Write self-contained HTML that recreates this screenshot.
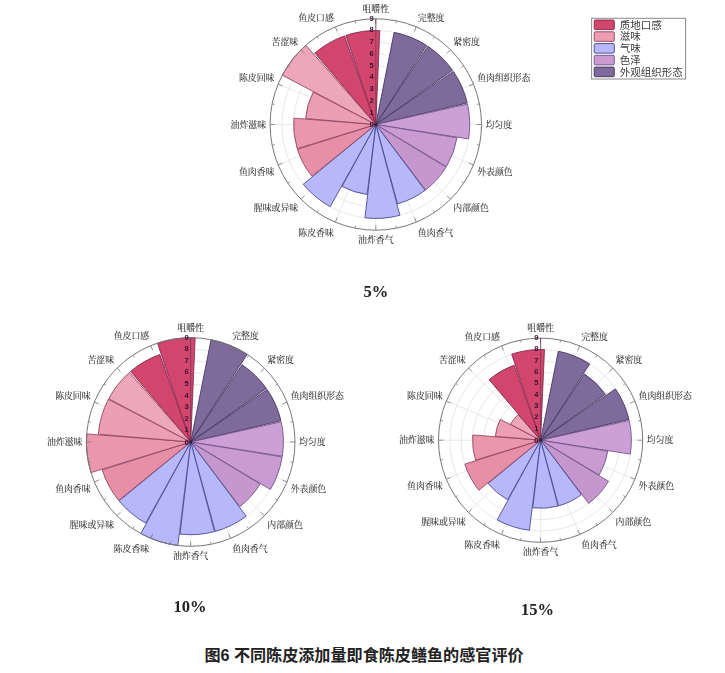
<!DOCTYPE html>
<html lang="zh"><head><meta charset="utf-8"><title>图6</title>
<style>
html,body{margin:0;padding:0;background:#fff;}
body{width:725px;height:673px;overflow:hidden;position:relative;}
svg{position:absolute;left:0;top:0;display:block;}
.fig{filter:blur(0.45px);}
.lab{font-family:"Liberation Serif","Noto Serif CJK SC",serif;font-size:8.9px;fill:#2c2c2c;stroke:#2c2c2c;stroke-width:0.08px;}
.num{font-family:"Liberation Sans","Noto Sans CJK SC",sans-serif;font-size:7.6px;fill:#3a1030;font-weight:bold;}
.leg{font-family:"Liberation Sans","Noto Sans CJK SC",sans-serif;font-size:10.5px;fill:#3a3a3a;}
.pct{font-family:"Liberation Serif",serif;font-size:16.5px;font-weight:bold;fill:#222;}
.cap{font-family:"Liberation Sans","Noto Sans CJK SC",sans-serif;font-size:16.1px;font-weight:bold;fill:#222;}
</style></head><body>
<svg width="725" height="673" viewBox="0 0 725 673">
<rect width="725" height="673" fill="#fff"/>
<g class="fig">
<circle cx="375.8" cy="124.5" r="11.74" fill="none" stroke="#e2e2e2" stroke-width="0.8"/>
<circle cx="375.8" cy="124.5" r="23.49" fill="none" stroke="#e2e2e2" stroke-width="0.8"/>
<circle cx="375.8" cy="124.5" r="35.23" fill="none" stroke="#e2e2e2" stroke-width="0.8"/>
<circle cx="375.8" cy="124.5" r="46.98" fill="none" stroke="#e2e2e2" stroke-width="0.8"/>
<circle cx="375.8" cy="124.5" r="58.72" fill="none" stroke="#e2e2e2" stroke-width="0.8"/>
<circle cx="375.8" cy="124.5" r="70.47" fill="none" stroke="#e2e2e2" stroke-width="0.8"/>
<circle cx="375.8" cy="124.5" r="82.21" fill="none" stroke="#e2e2e2" stroke-width="0.8"/>
<circle cx="375.8" cy="124.5" r="93.96" fill="none" stroke="#e2e2e2" stroke-width="0.8"/>
<line x1="375.8" y1="124.5" x2="375.80" y2="18.80" stroke="#e2e2e2" stroke-width="0.8"/>
<line x1="375.8" y1="124.5" x2="416.25" y2="26.85" stroke="#e2e2e2" stroke-width="0.8"/>
<line x1="375.8" y1="124.5" x2="450.54" y2="49.76" stroke="#e2e2e2" stroke-width="0.8"/>
<line x1="375.8" y1="124.5" x2="473.45" y2="84.05" stroke="#e2e2e2" stroke-width="0.8"/>
<line x1="375.8" y1="124.5" x2="481.50" y2="124.50" stroke="#e2e2e2" stroke-width="0.8"/>
<line x1="375.8" y1="124.5" x2="473.45" y2="164.95" stroke="#e2e2e2" stroke-width="0.8"/>
<line x1="375.8" y1="124.5" x2="450.54" y2="199.24" stroke="#e2e2e2" stroke-width="0.8"/>
<line x1="375.8" y1="124.5" x2="416.25" y2="222.15" stroke="#e2e2e2" stroke-width="0.8"/>
<line x1="375.8" y1="124.5" x2="375.80" y2="230.20" stroke="#e2e2e2" stroke-width="0.8"/>
<line x1="375.8" y1="124.5" x2="335.35" y2="222.15" stroke="#e2e2e2" stroke-width="0.8"/>
<line x1="375.8" y1="124.5" x2="301.06" y2="199.24" stroke="#e2e2e2" stroke-width="0.8"/>
<line x1="375.8" y1="124.5" x2="278.15" y2="164.95" stroke="#e2e2e2" stroke-width="0.8"/>
<line x1="375.8" y1="124.5" x2="270.10" y2="124.50" stroke="#e2e2e2" stroke-width="0.8"/>
<line x1="375.8" y1="124.5" x2="278.15" y2="84.05" stroke="#e2e2e2" stroke-width="0.8"/>
<line x1="375.8" y1="124.5" x2="301.06" y2="49.76" stroke="#e2e2e2" stroke-width="0.8"/>
<line x1="375.8" y1="124.5" x2="335.35" y2="26.85" stroke="#e2e2e2" stroke-width="0.8"/>
<path d="M375.80,124.50L394.13,32.35A93.96,93.96 0 0 1 426.66,45.50Z" fill="#7e6a9b" stroke="#3a2c58" stroke-width="0.8" stroke-linejoin="round"/>
<path d="M375.80,124.50L427.83,46.27A93.96,93.96 0 0 1 452.50,70.24Z" fill="#7e6a9b" stroke="#3a2c58" stroke-width="0.8" stroke-linejoin="round"/>
<path d="M375.80,124.50L453.30,71.38A93.96,93.96 0 0 1 467.25,102.97Z" fill="#7e6a9b" stroke="#3a2c58" stroke-width="0.8" stroke-linejoin="round"/>
<path d="M375.80,124.50L467.51,104.08A93.96,93.96 0 0 1 468.64,138.91Z" fill="#cca0d6" stroke="#684a80" stroke-width="0.8" stroke-linejoin="round"/>
<path d="M375.80,124.50L456.94,137.75A82.21,82.21 0 0 1 446.43,166.56Z" fill="#c99bd2" stroke="#684a80" stroke-width="0.8" stroke-linejoin="round"/>
<path d="M375.80,124.50L446.10,167.12A82.21,82.21 0 0 1 425.59,189.92Z" fill="#c697ce" stroke="#684a80" stroke-width="0.8" stroke-linejoin="round"/>
<path d="M375.80,124.50L425.08,190.31A82.21,82.21 0 0 1 397.53,203.79Z" fill="#b7b7fb" stroke="#3c3c85" stroke-width="0.8" stroke-linejoin="round"/>
<path d="M375.80,124.50L399.92,215.31A93.96,93.96 0 0 1 364.96,217.83Z" fill="#b7b7fb" stroke="#3c3c85" stroke-width="0.8" stroke-linejoin="round"/>
<path d="M375.80,124.50L367.12,194.43A70.47,70.47 0 0 1 342.10,186.38Z" fill="#b7b7fb" stroke="#3c3c85" stroke-width="0.8" stroke-linejoin="round"/>
<path d="M375.80,124.50L330.21,206.66A93.96,93.96 0 0 1 303.28,184.23Z" fill="#b7b7fb" stroke="#3c3c85" stroke-width="0.8" stroke-linejoin="round"/>
<path d="M375.80,124.50L311.93,176.27A82.21,82.21 0 0 1 297.40,149.26Z" fill="#e88fa8" stroke="#8a3a58" stroke-width="0.8" stroke-linejoin="round"/>
<path d="M375.80,124.50L297.21,148.64A82.21,82.21 0 0 1 293.83,118.16Z" fill="#ea96ad" stroke="#8a3a58" stroke-width="0.8" stroke-linejoin="round"/>
<path d="M375.80,124.50L305.59,118.51A70.47,70.47 0 0 1 313.22,92.10Z" fill="#ec9eb4" stroke="#8a3a58" stroke-width="0.8" stroke-linejoin="round"/>
<path d="M375.80,124.50L282.32,75.16A105.70,105.70 0 0 1 305.83,45.27Z" fill="#eea6bb" stroke="#8a3a58" stroke-width="0.8" stroke-linejoin="round"/>
<path d="M375.80,124.50L314.84,53.00A93.96,93.96 0 0 1 344.55,35.89Z" fill="#d2456d" stroke="#7a2045" stroke-width="0.8" stroke-linejoin="round"/>
<path d="M375.80,124.50L345.87,35.44A93.96,93.96 0 0 1 379.82,30.63Z" fill="#d2456d" stroke="#7a2045" stroke-width="0.8" stroke-linejoin="round"/>
<circle cx="375.8" cy="124.5" r="105.70" fill="none" stroke="#777" stroke-width="1"/>
<line x1="375.80" y1="18.80" x2="375.80" y2="23.60" stroke="#777" stroke-width="0.8"/>
<line x1="396.42" y1="20.83" x2="395.91" y2="23.38" stroke="#777" stroke-width="0.8"/>
<line x1="416.25" y1="26.85" x2="414.41" y2="31.28" stroke="#777" stroke-width="0.8"/>
<line x1="434.52" y1="36.61" x2="433.08" y2="38.78" stroke="#777" stroke-width="0.8"/>
<line x1="450.54" y1="49.76" x2="447.15" y2="53.15" stroke="#777" stroke-width="0.8"/>
<line x1="463.69" y1="65.78" x2="461.52" y2="67.22" stroke="#777" stroke-width="0.8"/>
<line x1="473.45" y1="84.05" x2="469.02" y2="85.89" stroke="#777" stroke-width="0.8"/>
<line x1="479.47" y1="103.88" x2="476.92" y2="104.39" stroke="#777" stroke-width="0.8"/>
<line x1="481.50" y1="124.50" x2="476.70" y2="124.50" stroke="#777" stroke-width="0.8"/>
<line x1="479.47" y1="145.12" x2="476.92" y2="144.61" stroke="#777" stroke-width="0.8"/>
<line x1="473.45" y1="164.95" x2="469.02" y2="163.11" stroke="#777" stroke-width="0.8"/>
<line x1="463.69" y1="183.22" x2="461.52" y2="181.78" stroke="#777" stroke-width="0.8"/>
<line x1="450.54" y1="199.24" x2="447.15" y2="195.85" stroke="#777" stroke-width="0.8"/>
<line x1="434.52" y1="212.39" x2="433.08" y2="210.22" stroke="#777" stroke-width="0.8"/>
<line x1="416.25" y1="222.15" x2="414.41" y2="217.72" stroke="#777" stroke-width="0.8"/>
<line x1="396.42" y1="228.17" x2="395.91" y2="225.62" stroke="#777" stroke-width="0.8"/>
<line x1="375.80" y1="230.20" x2="375.80" y2="225.40" stroke="#777" stroke-width="0.8"/>
<line x1="355.18" y1="228.17" x2="355.69" y2="225.62" stroke="#777" stroke-width="0.8"/>
<line x1="335.35" y1="222.15" x2="337.19" y2="217.72" stroke="#777" stroke-width="0.8"/>
<line x1="317.08" y1="212.39" x2="318.52" y2="210.22" stroke="#777" stroke-width="0.8"/>
<line x1="301.06" y1="199.24" x2="304.45" y2="195.85" stroke="#777" stroke-width="0.8"/>
<line x1="287.91" y1="183.22" x2="290.08" y2="181.78" stroke="#777" stroke-width="0.8"/>
<line x1="278.15" y1="164.95" x2="282.58" y2="163.11" stroke="#777" stroke-width="0.8"/>
<line x1="272.13" y1="145.12" x2="274.68" y2="144.61" stroke="#777" stroke-width="0.8"/>
<line x1="270.10" y1="124.50" x2="274.90" y2="124.50" stroke="#777" stroke-width="0.8"/>
<line x1="272.13" y1="103.88" x2="274.68" y2="104.39" stroke="#777" stroke-width="0.8"/>
<line x1="278.15" y1="84.05" x2="282.58" y2="85.89" stroke="#777" stroke-width="0.8"/>
<line x1="287.91" y1="65.78" x2="290.08" y2="67.22" stroke="#777" stroke-width="0.8"/>
<line x1="301.06" y1="49.76" x2="304.45" y2="53.15" stroke="#777" stroke-width="0.8"/>
<line x1="317.08" y1="36.61" x2="318.52" y2="38.78" stroke="#777" stroke-width="0.8"/>
<line x1="335.35" y1="26.85" x2="337.19" y2="31.28" stroke="#777" stroke-width="0.8"/>
<line x1="355.18" y1="20.83" x2="355.69" y2="23.38" stroke="#777" stroke-width="0.8"/>
<line x1="375.8" y1="124.5" x2="375.8" y2="18.80" stroke="#6a3a55" stroke-width="0.8"/>
<text x="373.80" y="114.66" text-anchor="end" class="num">1</text>
<text x="373.80" y="102.91" text-anchor="end" class="num">2</text>
<text x="373.80" y="91.17" text-anchor="end" class="num">3</text>
<text x="373.80" y="79.42" text-anchor="end" class="num">4</text>
<text x="373.80" y="67.68" text-anchor="end" class="num">5</text>
<text x="373.80" y="55.93" text-anchor="end" class="num">6</text>
<text x="373.80" y="44.19" text-anchor="end" class="num">7</text>
<text x="373.80" y="32.44" text-anchor="end" class="num">8</text>
<text x="373.80" y="20.70" text-anchor="end" class="num">9</text>
<text x="373.80" y="127.20" text-anchor="end" class="num">0</text><circle cx="375.8" cy="124.5" r="1.6" fill="#2a2030"/>
<text x="375.80" y="12.10" text-anchor="middle" class="lab">咀嚼性</text>
<text x="417.78" y="20.65" text-anchor="start" class="lab">完整度</text>
<text x="453.37" y="45.00" text-anchor="start" class="lab">紧密度</text>
<text x="477.15" y="81.43" text-anchor="start" class="lab">鱼肉组织形态</text>
<text x="485.50" y="127.70" text-anchor="start" class="lab">均匀度</text>
<text x="477.15" y="174.98" text-anchor="start" class="lab">外表颜色</text>
<text x="453.37" y="211.41" text-anchor="start" class="lab">内部颜色</text>
<text x="417.78" y="235.76" text-anchor="start" class="lab">鱼肉香气</text>
<text x="375.80" y="242.80" text-anchor="middle" class="lab">油炸香气</text>
<text x="333.82" y="235.76" text-anchor="end" class="lab">陈皮香味</text>
<text x="298.23" y="211.41" text-anchor="end" class="lab">腥味或异味</text>
<text x="274.45" y="174.98" text-anchor="end" class="lab">鱼肉香味</text>
<text x="266.10" y="127.70" text-anchor="end" class="lab">油炸滋味</text>
<text x="274.45" y="81.43" text-anchor="end" class="lab">陈皮回味</text>
<text x="298.23" y="45.00" text-anchor="end" class="lab">苦涩味</text>
<text x="333.82" y="20.65" text-anchor="end" class="lab">鱼皮口感</text>
<circle cx="190.7" cy="442.0" r="11.59" fill="none" stroke="#e2e2e2" stroke-width="0.8"/>
<circle cx="190.7" cy="442.0" r="23.18" fill="none" stroke="#e2e2e2" stroke-width="0.8"/>
<circle cx="190.7" cy="442.0" r="34.77" fill="none" stroke="#e2e2e2" stroke-width="0.8"/>
<circle cx="190.7" cy="442.0" r="46.36" fill="none" stroke="#e2e2e2" stroke-width="0.8"/>
<circle cx="190.7" cy="442.0" r="57.94" fill="none" stroke="#e2e2e2" stroke-width="0.8"/>
<circle cx="190.7" cy="442.0" r="69.53" fill="none" stroke="#e2e2e2" stroke-width="0.8"/>
<circle cx="190.7" cy="442.0" r="81.12" fill="none" stroke="#e2e2e2" stroke-width="0.8"/>
<circle cx="190.7" cy="442.0" r="92.71" fill="none" stroke="#e2e2e2" stroke-width="0.8"/>
<line x1="190.7" y1="442.0" x2="190.70" y2="337.70" stroke="#e2e2e2" stroke-width="0.8"/>
<line x1="190.7" y1="442.0" x2="230.61" y2="345.64" stroke="#e2e2e2" stroke-width="0.8"/>
<line x1="190.7" y1="442.0" x2="264.45" y2="368.25" stroke="#e2e2e2" stroke-width="0.8"/>
<line x1="190.7" y1="442.0" x2="287.06" y2="402.09" stroke="#e2e2e2" stroke-width="0.8"/>
<line x1="190.7" y1="442.0" x2="295.00" y2="442.00" stroke="#e2e2e2" stroke-width="0.8"/>
<line x1="190.7" y1="442.0" x2="287.06" y2="481.91" stroke="#e2e2e2" stroke-width="0.8"/>
<line x1="190.7" y1="442.0" x2="264.45" y2="515.75" stroke="#e2e2e2" stroke-width="0.8"/>
<line x1="190.7" y1="442.0" x2="230.61" y2="538.36" stroke="#e2e2e2" stroke-width="0.8"/>
<line x1="190.7" y1="442.0" x2="190.70" y2="546.30" stroke="#e2e2e2" stroke-width="0.8"/>
<line x1="190.7" y1="442.0" x2="150.79" y2="538.36" stroke="#e2e2e2" stroke-width="0.8"/>
<line x1="190.7" y1="442.0" x2="116.95" y2="515.75" stroke="#e2e2e2" stroke-width="0.8"/>
<line x1="190.7" y1="442.0" x2="94.34" y2="481.91" stroke="#e2e2e2" stroke-width="0.8"/>
<line x1="190.7" y1="442.0" x2="86.40" y2="442.00" stroke="#e2e2e2" stroke-width="0.8"/>
<line x1="190.7" y1="442.0" x2="94.34" y2="402.09" stroke="#e2e2e2" stroke-width="0.8"/>
<line x1="190.7" y1="442.0" x2="116.95" y2="368.25" stroke="#e2e2e2" stroke-width="0.8"/>
<line x1="190.7" y1="442.0" x2="150.79" y2="345.64" stroke="#e2e2e2" stroke-width="0.8"/>
<path d="M190.70,442.00L211.05,339.70A104.30,104.30 0 0 1 247.16,354.30Z" fill="#7e6a9b" stroke="#3a2c58" stroke-width="0.8" stroke-linejoin="round"/>
<path d="M190.70,442.00L242.04,364.80A92.71,92.71 0 0 1 266.39,388.46Z" fill="#7e6a9b" stroke="#3a2c58" stroke-width="0.8" stroke-linejoin="round"/>
<path d="M190.70,442.00L267.17,389.59A92.71,92.71 0 0 1 280.94,420.75Z" fill="#7e6a9b" stroke="#3a2c58" stroke-width="0.8" stroke-linejoin="round"/>
<path d="M190.70,442.00L281.20,421.85A92.71,92.71 0 0 1 282.31,456.22Z" fill="#cca0d6" stroke="#684a80" stroke-width="0.8" stroke-linejoin="round"/>
<path d="M190.70,442.00L282.20,456.94A92.71,92.71 0 0 1 270.36,489.44Z" fill="#c99bd2" stroke="#684a80" stroke-width="0.8" stroke-linejoin="round"/>
<path d="M190.70,442.00L260.07,484.05A81.12,81.12 0 0 1 239.83,506.55Z" fill="#c697ce" stroke="#684a80" stroke-width="0.8" stroke-linejoin="round"/>
<path d="M190.70,442.00L246.27,516.21A92.71,92.71 0 0 1 215.20,531.41Z" fill="#b7b7fb" stroke="#3c3c85" stroke-width="0.8" stroke-linejoin="round"/>
<path d="M190.70,442.00L214.50,531.60A92.71,92.71 0 0 1 180.00,534.09Z" fill="#b7b7fb" stroke="#3c3c85" stroke-width="0.8" stroke-linejoin="round"/>
<path d="M190.70,442.00L177.85,545.51A104.30,104.30 0 0 1 140.81,533.60Z" fill="#b7b7fb" stroke="#3c3c85" stroke-width="0.8" stroke-linejoin="round"/>
<path d="M190.70,442.00L145.72,523.07A92.71,92.71 0 0 1 119.14,500.94Z" fill="#b7b7fb" stroke="#3c3c85" stroke-width="0.8" stroke-linejoin="round"/>
<path d="M190.70,442.00L118.68,500.38A92.71,92.71 0 0 1 102.29,469.92Z" fill="#e88fa8" stroke="#8a3a58" stroke-width="0.8" stroke-linejoin="round"/>
<path d="M190.70,442.00L91.00,472.62A104.30,104.30 0 0 1 86.71,433.95Z" fill="#ea96ad" stroke="#8a3a58" stroke-width="0.8" stroke-linejoin="round"/>
<path d="M190.70,442.00L98.32,434.12A92.71,92.71 0 0 1 108.37,399.37Z" fill="#ec9eb4" stroke="#8a3a58" stroke-width="0.8" stroke-linejoin="round"/>
<path d="M190.70,442.00L108.71,398.72A92.71,92.71 0 0 1 129.33,372.51Z" fill="#eea6bb" stroke="#8a3a58" stroke-width="0.8" stroke-linejoin="round"/>
<path d="M190.70,442.00L130.55,371.45A92.71,92.71 0 0 1 159.87,354.57Z" fill="#d2456d" stroke="#7a2045" stroke-width="0.8" stroke-linejoin="round"/>
<path d="M190.70,442.00L157.48,343.13A104.30,104.30 0 0 1 195.16,337.80Z" fill="#d2456d" stroke="#7a2045" stroke-width="0.8" stroke-linejoin="round"/>
<circle cx="190.7" cy="442.0" r="104.30" fill="none" stroke="#777" stroke-width="1"/>
<line x1="190.70" y1="337.70" x2="190.70" y2="342.50" stroke="#777" stroke-width="0.8"/>
<line x1="211.05" y1="339.70" x2="210.54" y2="342.25" stroke="#777" stroke-width="0.8"/>
<line x1="230.61" y1="345.64" x2="228.78" y2="350.07" stroke="#777" stroke-width="0.8"/>
<line x1="248.65" y1="355.28" x2="247.20" y2="357.44" stroke="#777" stroke-width="0.8"/>
<line x1="264.45" y1="368.25" x2="261.06" y2="371.64" stroke="#777" stroke-width="0.8"/>
<line x1="277.42" y1="384.05" x2="275.26" y2="385.50" stroke="#777" stroke-width="0.8"/>
<line x1="287.06" y1="402.09" x2="282.63" y2="403.92" stroke="#777" stroke-width="0.8"/>
<line x1="293.00" y1="421.65" x2="290.45" y2="422.16" stroke="#777" stroke-width="0.8"/>
<line x1="295.00" y1="442.00" x2="290.20" y2="442.00" stroke="#777" stroke-width="0.8"/>
<line x1="293.00" y1="462.35" x2="290.45" y2="461.84" stroke="#777" stroke-width="0.8"/>
<line x1="287.06" y1="481.91" x2="282.63" y2="480.08" stroke="#777" stroke-width="0.8"/>
<line x1="277.42" y1="499.95" x2="275.26" y2="498.50" stroke="#777" stroke-width="0.8"/>
<line x1="264.45" y1="515.75" x2="261.06" y2="512.36" stroke="#777" stroke-width="0.8"/>
<line x1="248.65" y1="528.72" x2="247.20" y2="526.56" stroke="#777" stroke-width="0.8"/>
<line x1="230.61" y1="538.36" x2="228.78" y2="533.93" stroke="#777" stroke-width="0.8"/>
<line x1="211.05" y1="544.30" x2="210.54" y2="541.75" stroke="#777" stroke-width="0.8"/>
<line x1="190.70" y1="546.30" x2="190.70" y2="541.50" stroke="#777" stroke-width="0.8"/>
<line x1="170.35" y1="544.30" x2="170.86" y2="541.75" stroke="#777" stroke-width="0.8"/>
<line x1="150.79" y1="538.36" x2="152.62" y2="533.93" stroke="#777" stroke-width="0.8"/>
<line x1="132.75" y1="528.72" x2="134.20" y2="526.56" stroke="#777" stroke-width="0.8"/>
<line x1="116.95" y1="515.75" x2="120.34" y2="512.36" stroke="#777" stroke-width="0.8"/>
<line x1="103.98" y1="499.95" x2="106.14" y2="498.50" stroke="#777" stroke-width="0.8"/>
<line x1="94.34" y1="481.91" x2="98.77" y2="480.08" stroke="#777" stroke-width="0.8"/>
<line x1="88.40" y1="462.35" x2="90.95" y2="461.84" stroke="#777" stroke-width="0.8"/>
<line x1="86.40" y1="442.00" x2="91.20" y2="442.00" stroke="#777" stroke-width="0.8"/>
<line x1="88.40" y1="421.65" x2="90.95" y2="422.16" stroke="#777" stroke-width="0.8"/>
<line x1="94.34" y1="402.09" x2="98.77" y2="403.92" stroke="#777" stroke-width="0.8"/>
<line x1="103.98" y1="384.05" x2="106.14" y2="385.50" stroke="#777" stroke-width="0.8"/>
<line x1="116.95" y1="368.25" x2="120.34" y2="371.64" stroke="#777" stroke-width="0.8"/>
<line x1="132.75" y1="355.28" x2="134.20" y2="357.44" stroke="#777" stroke-width="0.8"/>
<line x1="150.79" y1="345.64" x2="152.62" y2="350.07" stroke="#777" stroke-width="0.8"/>
<line x1="170.35" y1="339.70" x2="170.86" y2="342.25" stroke="#777" stroke-width="0.8"/>
<line x1="190.7" y1="442.0" x2="190.7" y2="337.70" stroke="#6a3a55" stroke-width="0.8"/>
<text x="188.70" y="432.31" text-anchor="end" class="num">1</text>
<text x="188.70" y="420.72" text-anchor="end" class="num">2</text>
<text x="188.70" y="409.13" text-anchor="end" class="num">3</text>
<text x="188.70" y="397.54" text-anchor="end" class="num">4</text>
<text x="188.70" y="385.96" text-anchor="end" class="num">5</text>
<text x="188.70" y="374.37" text-anchor="end" class="num">6</text>
<text x="188.70" y="362.78" text-anchor="end" class="num">7</text>
<text x="188.70" y="351.19" text-anchor="end" class="num">8</text>
<text x="188.70" y="339.60" text-anchor="end" class="num">9</text>
<text x="188.70" y="444.70" text-anchor="end" class="num">0</text><circle cx="190.7" cy="442.0" r="1.6" fill="#2a2030"/>
<text x="190.70" y="331.00" text-anchor="middle" class="lab">咀嚼性</text>
<text x="232.14" y="339.45" text-anchor="start" class="lab">完整度</text>
<text x="267.28" y="363.49" text-anchor="start" class="lab">紧密度</text>
<text x="290.76" y="399.46" text-anchor="start" class="lab">鱼肉组织形态</text>
<text x="299.00" y="445.20" text-anchor="start" class="lab">均匀度</text>
<text x="290.76" y="491.94" text-anchor="start" class="lab">外表颜色</text>
<text x="267.28" y="527.92" text-anchor="start" class="lab">内部颜色</text>
<text x="232.14" y="551.96" text-anchor="start" class="lab">鱼肉香气</text>
<text x="190.70" y="558.90" text-anchor="middle" class="lab">油炸香气</text>
<text x="149.26" y="551.96" text-anchor="end" class="lab">陈皮香味</text>
<text x="114.12" y="527.92" text-anchor="end" class="lab">腥味或异味</text>
<text x="90.64" y="491.94" text-anchor="end" class="lab">鱼肉香味</text>
<text x="82.40" y="445.20" text-anchor="end" class="lab">油炸滋味</text>
<text x="90.64" y="399.46" text-anchor="end" class="lab">陈皮回味</text>
<text x="114.12" y="363.49" text-anchor="end" class="lab">苦涩味</text>
<text x="149.26" y="339.45" text-anchor="end" class="lab">鱼皮口感</text>
<circle cx="540.6" cy="440.2" r="11.34" fill="none" stroke="#e2e2e2" stroke-width="0.8"/>
<circle cx="540.6" cy="440.2" r="22.69" fill="none" stroke="#e2e2e2" stroke-width="0.8"/>
<circle cx="540.6" cy="440.2" r="34.03" fill="none" stroke="#e2e2e2" stroke-width="0.8"/>
<circle cx="540.6" cy="440.2" r="45.38" fill="none" stroke="#e2e2e2" stroke-width="0.8"/>
<circle cx="540.6" cy="440.2" r="56.72" fill="none" stroke="#e2e2e2" stroke-width="0.8"/>
<circle cx="540.6" cy="440.2" r="68.07" fill="none" stroke="#e2e2e2" stroke-width="0.8"/>
<circle cx="540.6" cy="440.2" r="79.41" fill="none" stroke="#e2e2e2" stroke-width="0.8"/>
<circle cx="540.6" cy="440.2" r="90.76" fill="none" stroke="#e2e2e2" stroke-width="0.8"/>
<line x1="540.6" y1="440.2" x2="540.60" y2="338.10" stroke="#e2e2e2" stroke-width="0.8"/>
<line x1="540.6" y1="440.2" x2="579.67" y2="345.87" stroke="#e2e2e2" stroke-width="0.8"/>
<line x1="540.6" y1="440.2" x2="612.80" y2="368.00" stroke="#e2e2e2" stroke-width="0.8"/>
<line x1="540.6" y1="440.2" x2="634.93" y2="401.13" stroke="#e2e2e2" stroke-width="0.8"/>
<line x1="540.6" y1="440.2" x2="642.70" y2="440.20" stroke="#e2e2e2" stroke-width="0.8"/>
<line x1="540.6" y1="440.2" x2="634.93" y2="479.27" stroke="#e2e2e2" stroke-width="0.8"/>
<line x1="540.6" y1="440.2" x2="612.80" y2="512.40" stroke="#e2e2e2" stroke-width="0.8"/>
<line x1="540.6" y1="440.2" x2="579.67" y2="534.53" stroke="#e2e2e2" stroke-width="0.8"/>
<line x1="540.6" y1="440.2" x2="540.60" y2="542.30" stroke="#e2e2e2" stroke-width="0.8"/>
<line x1="540.6" y1="440.2" x2="501.53" y2="534.53" stroke="#e2e2e2" stroke-width="0.8"/>
<line x1="540.6" y1="440.2" x2="468.40" y2="512.40" stroke="#e2e2e2" stroke-width="0.8"/>
<line x1="540.6" y1="440.2" x2="446.27" y2="479.27" stroke="#e2e2e2" stroke-width="0.8"/>
<line x1="540.6" y1="440.2" x2="438.50" y2="440.20" stroke="#e2e2e2" stroke-width="0.8"/>
<line x1="540.6" y1="440.2" x2="446.27" y2="401.13" stroke="#e2e2e2" stroke-width="0.8"/>
<line x1="540.6" y1="440.2" x2="468.40" y2="368.00" stroke="#e2e2e2" stroke-width="0.8"/>
<line x1="540.6" y1="440.2" x2="501.53" y2="345.87" stroke="#e2e2e2" stroke-width="0.8"/>
<path d="M540.60,440.20L558.31,351.19A90.76,90.76 0 0 1 589.73,363.89Z" fill="#7e6a9b" stroke="#3a2c58" stroke-width="0.8" stroke-linejoin="round"/>
<path d="M540.60,440.20L584.57,374.08A79.41,79.41 0 0 1 605.43,394.34Z" fill="#7e6a9b" stroke="#3a2c58" stroke-width="0.8" stroke-linejoin="round"/>
<path d="M540.60,440.20L615.46,388.89A90.76,90.76 0 0 1 628.94,419.40Z" fill="#7e6a9b" stroke="#3a2c58" stroke-width="0.8" stroke-linejoin="round"/>
<path d="M540.60,440.20L629.19,420.48A90.76,90.76 0 0 1 630.28,454.12Z" fill="#cca0d6" stroke="#684a80" stroke-width="0.8" stroke-linejoin="round"/>
<path d="M540.60,440.20L607.78,451.17A68.07,68.07 0 0 1 599.08,475.03Z" fill="#c99bd2" stroke="#684a80" stroke-width="0.8" stroke-linejoin="round"/>
<path d="M540.60,440.20L608.51,481.37A79.41,79.41 0 0 1 588.69,503.39Z" fill="#c697ce" stroke="#684a80" stroke-width="0.8" stroke-linejoin="round"/>
<path d="M540.60,440.20L581.40,494.69A68.07,68.07 0 0 1 558.59,505.85Z" fill="#b7b7fb" stroke="#3c3c85" stroke-width="0.8" stroke-linejoin="round"/>
<path d="M540.60,440.20L558.07,505.99A68.07,68.07 0 0 1 532.75,507.81Z" fill="#b7b7fb" stroke="#3c3c85" stroke-width="0.8" stroke-linejoin="round"/>
<path d="M540.60,440.20L529.42,530.26A90.76,90.76 0 0 1 497.19,519.90Z" fill="#b7b7fb" stroke="#3c3c85" stroke-width="0.8" stroke-linejoin="round"/>
<path d="M540.60,440.20L507.57,499.72A68.07,68.07 0 0 1 488.06,483.47Z" fill="#b7b7fb" stroke="#3c3c85" stroke-width="0.8" stroke-linejoin="round"/>
<path d="M540.60,440.20L478.91,490.20A79.41,79.41 0 0 1 464.87,464.11Z" fill="#e88fa8" stroke="#8a3a58" stroke-width="0.8" stroke-linejoin="round"/>
<path d="M540.60,440.20L475.53,460.19A68.07,68.07 0 0 1 472.74,434.95Z" fill="#ea96ad" stroke="#8a3a58" stroke-width="0.8" stroke-linejoin="round"/>
<path d="M540.60,440.20L495.39,436.34A45.38,45.38 0 0 1 500.30,419.33Z" fill="#ec9eb4" stroke="#8a3a58" stroke-width="0.8" stroke-linejoin="round"/>
<path d="M540.60,440.20L510.50,424.31A34.03,34.03 0 0 1 518.07,414.69Z" fill="#eea6bb" stroke="#8a3a58" stroke-width="0.8" stroke-linejoin="round"/>
<path d="M540.60,440.20L489.08,379.77A79.41,79.41 0 0 1 514.19,365.31Z" fill="#d2456d" stroke="#7a2045" stroke-width="0.8" stroke-linejoin="round"/>
<path d="M540.60,440.20L511.69,354.17A90.76,90.76 0 0 1 544.48,349.53Z" fill="#d2456d" stroke="#7a2045" stroke-width="0.8" stroke-linejoin="round"/>
<circle cx="540.6" cy="440.2" r="102.10" fill="none" stroke="#777" stroke-width="1"/>
<line x1="540.60" y1="338.10" x2="540.60" y2="342.90" stroke="#777" stroke-width="0.8"/>
<line x1="560.52" y1="340.06" x2="560.01" y2="342.61" stroke="#777" stroke-width="0.8"/>
<line x1="579.67" y1="345.87" x2="577.84" y2="350.31" stroke="#777" stroke-width="0.8"/>
<line x1="597.32" y1="355.31" x2="595.88" y2="357.47" stroke="#777" stroke-width="0.8"/>
<line x1="612.80" y1="368.00" x2="609.40" y2="371.40" stroke="#777" stroke-width="0.8"/>
<line x1="625.49" y1="383.48" x2="623.33" y2="384.92" stroke="#777" stroke-width="0.8"/>
<line x1="634.93" y1="401.13" x2="630.49" y2="402.96" stroke="#777" stroke-width="0.8"/>
<line x1="640.74" y1="420.28" x2="638.19" y2="420.79" stroke="#777" stroke-width="0.8"/>
<line x1="642.70" y1="440.20" x2="637.90" y2="440.20" stroke="#777" stroke-width="0.8"/>
<line x1="640.74" y1="460.12" x2="638.19" y2="459.61" stroke="#777" stroke-width="0.8"/>
<line x1="634.93" y1="479.27" x2="630.49" y2="477.44" stroke="#777" stroke-width="0.8"/>
<line x1="625.49" y1="496.92" x2="623.33" y2="495.48" stroke="#777" stroke-width="0.8"/>
<line x1="612.80" y1="512.40" x2="609.40" y2="509.00" stroke="#777" stroke-width="0.8"/>
<line x1="597.32" y1="525.09" x2="595.88" y2="522.93" stroke="#777" stroke-width="0.8"/>
<line x1="579.67" y1="534.53" x2="577.84" y2="530.09" stroke="#777" stroke-width="0.8"/>
<line x1="560.52" y1="540.34" x2="560.01" y2="537.79" stroke="#777" stroke-width="0.8"/>
<line x1="540.60" y1="542.30" x2="540.60" y2="537.50" stroke="#777" stroke-width="0.8"/>
<line x1="520.68" y1="540.34" x2="521.19" y2="537.79" stroke="#777" stroke-width="0.8"/>
<line x1="501.53" y1="534.53" x2="503.36" y2="530.09" stroke="#777" stroke-width="0.8"/>
<line x1="483.88" y1="525.09" x2="485.32" y2="522.93" stroke="#777" stroke-width="0.8"/>
<line x1="468.40" y1="512.40" x2="471.80" y2="509.00" stroke="#777" stroke-width="0.8"/>
<line x1="455.71" y1="496.92" x2="457.87" y2="495.48" stroke="#777" stroke-width="0.8"/>
<line x1="446.27" y1="479.27" x2="450.71" y2="477.44" stroke="#777" stroke-width="0.8"/>
<line x1="440.46" y1="460.12" x2="443.01" y2="459.61" stroke="#777" stroke-width="0.8"/>
<line x1="438.50" y1="440.20" x2="443.30" y2="440.20" stroke="#777" stroke-width="0.8"/>
<line x1="440.46" y1="420.28" x2="443.01" y2="420.79" stroke="#777" stroke-width="0.8"/>
<line x1="446.27" y1="401.13" x2="450.71" y2="402.96" stroke="#777" stroke-width="0.8"/>
<line x1="455.71" y1="383.48" x2="457.87" y2="384.92" stroke="#777" stroke-width="0.8"/>
<line x1="468.40" y1="368.00" x2="471.80" y2="371.40" stroke="#777" stroke-width="0.8"/>
<line x1="483.88" y1="355.31" x2="485.32" y2="357.47" stroke="#777" stroke-width="0.8"/>
<line x1="501.53" y1="345.87" x2="503.36" y2="350.31" stroke="#777" stroke-width="0.8"/>
<line x1="520.68" y1="340.06" x2="521.19" y2="342.61" stroke="#777" stroke-width="0.8"/>
<line x1="540.6" y1="440.2" x2="540.6" y2="338.10" stroke="#6a3a55" stroke-width="0.8"/>
<text x="538.60" y="430.76" text-anchor="end" class="num">1</text>
<text x="538.60" y="419.41" text-anchor="end" class="num">2</text>
<text x="538.60" y="408.07" text-anchor="end" class="num">3</text>
<text x="538.60" y="396.72" text-anchor="end" class="num">4</text>
<text x="538.60" y="385.38" text-anchor="end" class="num">5</text>
<text x="538.60" y="374.03" text-anchor="end" class="num">6</text>
<text x="538.60" y="362.69" text-anchor="end" class="num">7</text>
<text x="538.60" y="351.34" text-anchor="end" class="num">8</text>
<text x="538.60" y="340.00" text-anchor="end" class="num">9</text>
<text x="538.60" y="442.90" text-anchor="end" class="num">0</text><circle cx="540.6" cy="440.2" r="1.6" fill="#2a2030"/>
<text x="540.60" y="331.40" text-anchor="middle" class="lab">咀嚼性</text>
<text x="581.20" y="339.68" text-anchor="start" class="lab">完整度</text>
<text x="615.62" y="363.24" text-anchor="start" class="lab">紧密度</text>
<text x="638.62" y="398.51" text-anchor="start" class="lab">鱼肉组织形态</text>
<text x="646.70" y="443.40" text-anchor="start" class="lab">均匀度</text>
<text x="638.62" y="489.30" text-anchor="start" class="lab">外表颜色</text>
<text x="615.62" y="524.57" text-anchor="start" class="lab">内部颜色</text>
<text x="581.20" y="548.13" text-anchor="start" class="lab">鱼肉香气</text>
<text x="540.60" y="554.90" text-anchor="middle" class="lab">油炸香气</text>
<text x="500.00" y="548.13" text-anchor="end" class="lab">陈皮香味</text>
<text x="465.58" y="524.57" text-anchor="end" class="lab">腥味或异味</text>
<text x="442.58" y="489.30" text-anchor="end" class="lab">鱼肉香味</text>
<text x="434.50" y="443.40" text-anchor="end" class="lab">油炸滋味</text>
<text x="442.58" y="398.51" text-anchor="end" class="lab">陈皮回味</text>
<text x="465.58" y="363.24" text-anchor="end" class="lab">苦涩味</text>
<text x="500.00" y="339.68" text-anchor="end" class="lab">鱼皮口感</text>
<rect x="591.6" y="18.3" width="94" height="60.7" fill="#fff" stroke="#8a8a8a" stroke-width="1"/>
<rect x="594.2" y="20.00" width="20.1" height="9.6" rx="1.2" fill="#d2456d" stroke="#7a2045" stroke-opacity="0.85" stroke-width="1"/>
<text x="619.8" y="28.70" class="leg">质地口感</text>
<rect x="594.2" y="31.77" width="20.1" height="9.6" rx="1.2" fill="#ec9db3" stroke="#8a3a58" stroke-opacity="0.85" stroke-width="1"/>
<text x="619.8" y="40.47" class="leg">滋味</text>
<rect x="594.2" y="43.54" width="20.1" height="9.6" rx="1.2" fill="#b7b7fb" stroke="#3c3c85" stroke-opacity="0.85" stroke-width="1"/>
<text x="619.8" y="52.24" class="leg">气味</text>
<rect x="594.2" y="55.31" width="20.1" height="9.6" rx="1.2" fill="#c99bd2" stroke="#684a80" stroke-opacity="0.85" stroke-width="1"/>
<text x="619.8" y="64.01" class="leg">色泽</text>
<rect x="594.2" y="67.08" width="20.1" height="9.6" rx="1.2" fill="#7e6a9b" stroke="#3a2c58" stroke-opacity="0.85" stroke-width="1"/>
<text x="619.8" y="75.78" class="leg">外观组织形态</text>
<text x="375.9" y="297.3" text-anchor="middle" class="pct">5%</text>
<text x="190" y="612.2" text-anchor="middle" class="pct">10%</text>
<text x="537.4" y="614.6" text-anchor="middle" class="pct">15%</text>
</g>
<text x="364" y="660.5" text-anchor="middle" class="cap">图6 不同陈皮添加量即食陈皮鳝鱼的感官评价</text>
</svg>
</body></html>
